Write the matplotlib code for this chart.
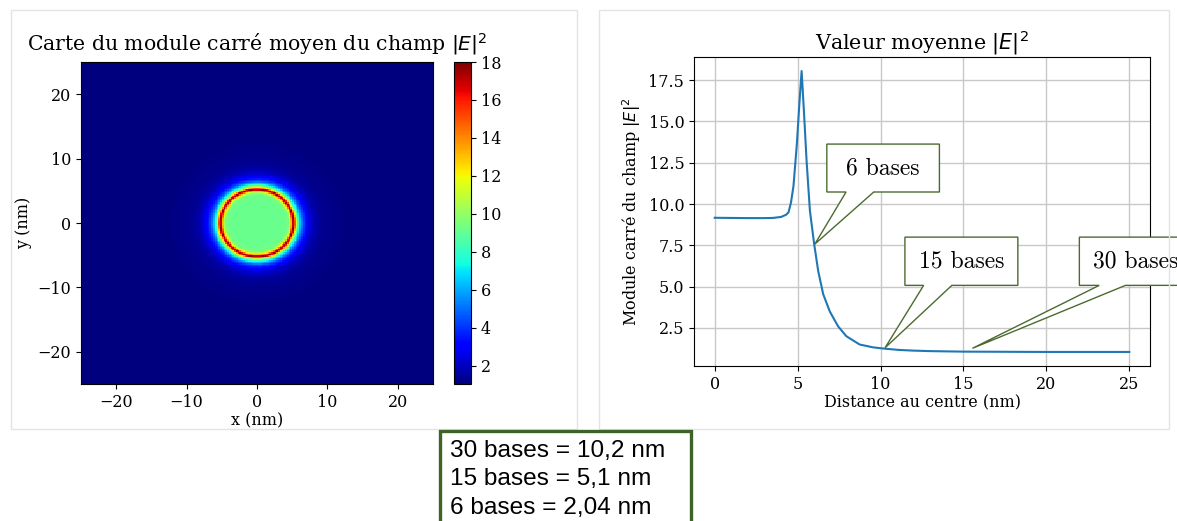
import numpy as np
import matplotlib
matplotlib.use("Agg")
import matplotlib.pyplot as plt
from matplotlib.patches import Rectangle, Polygon

# radial profile of the mean |E|^2
dist = [0.0, 1.0, 2.0, 3.0, 3.5, 4.0, 4.3, 4.45, 4.6, 4.75, 4.95, 5.1, 5.24,
        5.38, 5.54, 5.74, 6.0, 6.24, 6.54, 6.94, 7.44, 7.94, 8.74, 9.54,
        10.24, 11.14, 12.0, 13.0, 15.0, 20.0, 25.0]
e2 = [9.17, 9.16, 9.15, 9.15, 9.16, 9.22, 9.35, 9.5, 10.1, 11.1, 13.6, 16.0, 18.05,
      15.6, 12.6, 9.6, 7.56, 5.95, 4.55, 3.5, 2.6, 2.0, 1.5, 1.33,
      1.25, 1.17, 1.13, 1.1, 1.07, 1.05, 1.05]

# callouts: label, tip (x, y), box (x0, x1, y0, y1), wedge base (xa, xb)
call_labels = ["6 bases", "15 bases", "30 bases"]
call_tips = [(6.04, 7.58), (10.27, 1.3), (15.54, 1.27)]
call_boxes = [(6.76, 13.55, 10.73, 13.63), (11.47, 18.28, 5.08, 8.0),
              (21.99, 28.8, 5.08, 8.0)]
call_bases = [(7.92, 9.59), (12.6, 14.3), (23.19, 24.77)]

note_lines = ["30 bases = 10,2 nm", "15 bases = 5,1 nm", "6 bases = 2,04 nm"]

plt.rcParams['font.family'] = 'DejaVu Serif'
plt.rcParams['font.size'] = 11.5

W, H = 1177, 521
fig = plt.figure(figsize=(W / 100, H / 100), dpi=100)
fig.patch.set_facecolor('white')


def box(x0, y0, x1, y1):
    # pixel box (top-left origin) -> figure fraction [l, b, w, h]
    return [x0 / W, 1 - y1 / H, (x1 - x0) / W, (y1 - y0) / H]


# panel frames of the screenshot
for (x0, y0, x1, y1) in [(11, 10, 577, 429), (599, 10, 1169, 429)]:
    fig.patches.append(Rectangle((x0 / W, 1 - y1 / H), (x1 - x0) / W, (y1 - y0) / H,
                                 transform=fig.transFigure, fill=False,
                                 edgecolor='#e4e4e4', lw=1))

# ---- left: map ----
ax1 = fig.add_axes(box(81, 62, 433, 384))
cax = fig.add_axes(box(454, 62, 471, 384))
n = 200
g = np.linspace(-25, 25, n)
X, Y = np.meshgrid(g, g)
R = np.sqrt(X ** 2 + Y ** 2)
field = np.interp(R, dist, e2)
im = ax1.imshow(field, extent=(-25, 25, -25, 25), origin='lower', aspect='auto',
                cmap='jet', interpolation='nearest', vmin=min(e2), vmax=18.0)
ax1.set_xticks([-20, -10, 0, 10, 20])
ax1.set_yticks([-20, -10, 0, 10, 20])
ax1.set_xlabel('x (nm)', labelpad=1)
ax1.set_ylabel('y (nm)', labelpad=4)
ax1.set_title(r'Carte du module carré moyen du champ $|E|^2$', fontsize=14.7, pad=8.5)
cb = fig.colorbar(im, cax=cax)
cb.set_ticks([2, 4, 6, 8, 10, 12, 14, 16, 18])
cb.outline.set_linewidth(0.8)

# ---- right: profile ----
ax2 = fig.add_axes(box(694, 57, 1150, 366))
ax2.plot(dist, e2, color='#1f77b4', lw=1.5)
ax2.grid(True, color='#c8c8c8', lw=1)
ax2.set_axisbelow(True)
ax2.set_xticks([0, 5, 10, 15, 20, 25])
ax2.set_yticks([2.5, 5.0, 7.5, 10.0, 12.5, 15.0, 17.5])
ax2.set_xlabel('Distance au centre (nm)', labelpad=1)
ax2.set_ylabel(r'Module carré du champ $|E|^2$', labelpad=4)
ax2.set_title(r'Valeur moyenne $|E|^2$', fontsize=14.9, pad=5)

green = '#4b6b2e'
for lab, (tx, ty), (x0, x1, y0, y1), (xa, xb) in zip(call_labels, call_tips,
                                                       call_boxes, call_bases):
    verts = [(x0, y1), (x1, y1), (x1, y0), (xb, y0), (tx, ty), (xa, y0), (x0, y0)]
    ax2.add_patch(Polygon(verts, closed=True, facecolor='white', edgecolor=green,
                          lw=1, clip_on=False, zorder=5))
    ax2.text((x0 + x1) / 2, (y0 + y1) / 2, lab, ha='center', va='center',
             fontfamily='cmr10', fontsize=17, zorder=6, clip_on=False)

# ---- bottom note box ----
fig.patches.append(Rectangle((440 / W, 1 - 540 / H), 251 / W, 109 / H,
                             transform=fig.transFigure, facecolor='white',
                             edgecolor='#3f6226', lw=2.4))
for i, line in enumerate(note_lines):
    fig.text(450 / W, 1 - (451 + 28.5 * i) / H, line, ha='left', va='center',
             fontfamily='Liberation Sans', fontsize=17.6)

fig.savefig('out.png', dpi=100)
